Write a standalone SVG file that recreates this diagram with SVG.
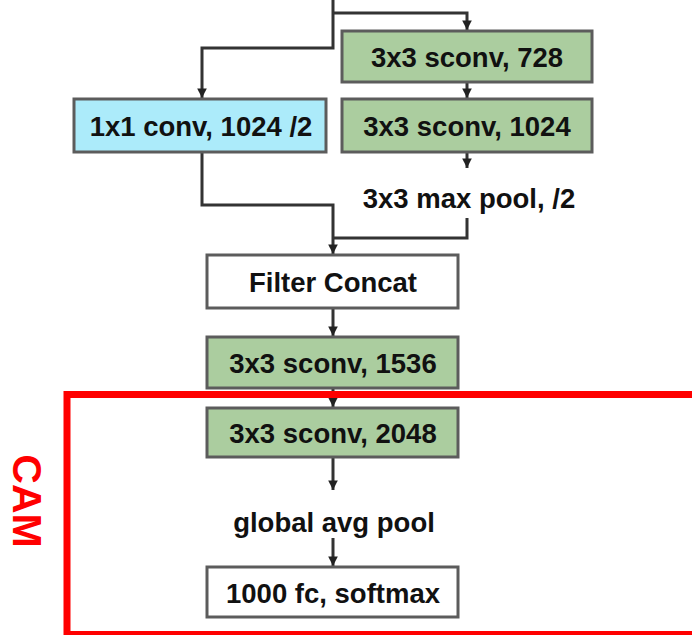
<svg xmlns="http://www.w3.org/2000/svg" width="692" height="635" viewBox="0 0 692 635">
<defs>
<style>
.box{stroke:#5c5c5c;stroke-width:3}
.green{fill:#abcd9f}
.blue{fill:#acebfa}
.white{fill:#ffffff}
.lbl{font-family:"Liberation Sans",Arial,sans-serif;font-weight:bold;font-size:27.5px;fill:#111111;text-anchor:middle;dominant-baseline:central}
.conn{fill:none;stroke:#333333;stroke-width:3;stroke-linejoin:miter}
</style>
<marker id="arr" viewBox="0 0 10 10" refX="10" refY="5" markerWidth="3.2" markerHeight="3.2" orient="auto" markerUnits="strokeWidth">
<path d="M0,0 L10,5 L0,10 z" fill="#222222"/>
</marker>
</defs>
<rect width="692" height="635" fill="#ffffff"/>
<g id="connectors">
<path class="conn" d="M333,0 V48 H202 V98" marker-end="url(#arr)"/>
<path class="conn" d="M333,13 H467 V30" marker-end="url(#arr)"/>
<path class="conn" d="M467,82 V98" marker-end="url(#arr)"/>
<path class="conn" d="M467,152 V168" marker-end="url(#arr)"/>
<path class="conn" d="M467,218 V238 H333"/>
<path class="conn" d="M202,152 V205 H333 V254" marker-end="url(#arr)"/>
<path class="conn" d="M333,308 V336" marker-end="url(#arr)"/>
<path class="conn" d="M333,388 V407" marker-end="url(#arr)"/>
<path class="conn" d="M333,457 V490" marker-end="url(#arr)"/>
<path class="conn" d="M333,538 V566" marker-end="url(#arr)"/>
</g>
<g id="sconv728">
<rect class="box green" x="342" y="31" width="250" height="51"/>
<text class="lbl" x="467" y="57">3x3 sconv, 728</text>
</g>
<g id="conv1x1">
<rect class="box blue" x="74" y="99" width="252" height="53"/>
<text class="lbl" x="201" y="126">1x1 conv, 1024 /2</text>
</g>
<g id="sconv1024">
<rect class="box green" x="342" y="99" width="250" height="53"/>
<text class="lbl" x="467" y="126">3x3 sconv, 1024</text>
</g>
<g id="maxpool">
<text class="lbl" x="469" y="198">3x3 max pool, /2</text>
</g>
<g id="concat">
<rect class="box white" x="207" y="255" width="251" height="53"/>
<text class="lbl" x="333" y="282">Filter Concat</text>
</g>
<g id="sconv1536">
<rect class="box green" x="207" y="337" width="251" height="51"/>
<text class="lbl" x="333" y="363">3x3 sconv, 1536</text>
</g>
<g id="sconv2048">
<rect class="box green" x="207" y="408" width="251" height="49"/>
<text class="lbl" x="333" y="433">3x3 sconv, 2048</text>
</g>
<g id="gap">
<text class="lbl" x="334" y="522">global avg pool</text>
</g>
<g id="fc">
<rect class="box white" x="207" y="567" width="251" height="50"/>
<text class="lbl" x="333" y="593">1000 fc, softmax</text>
</g>
<g id="cam">
<rect x="67" y="394.5" width="700" height="240" fill="none" stroke="#ff0000" stroke-width="7"/>
<text x="27" y="501" transform="rotate(90 27 501)" font-family="Liberation Sans,Arial,sans-serif" font-weight="bold" font-size="41" fill="#ff0000" text-anchor="middle" dominant-baseline="central">CAM</text>
</g>
</svg>
